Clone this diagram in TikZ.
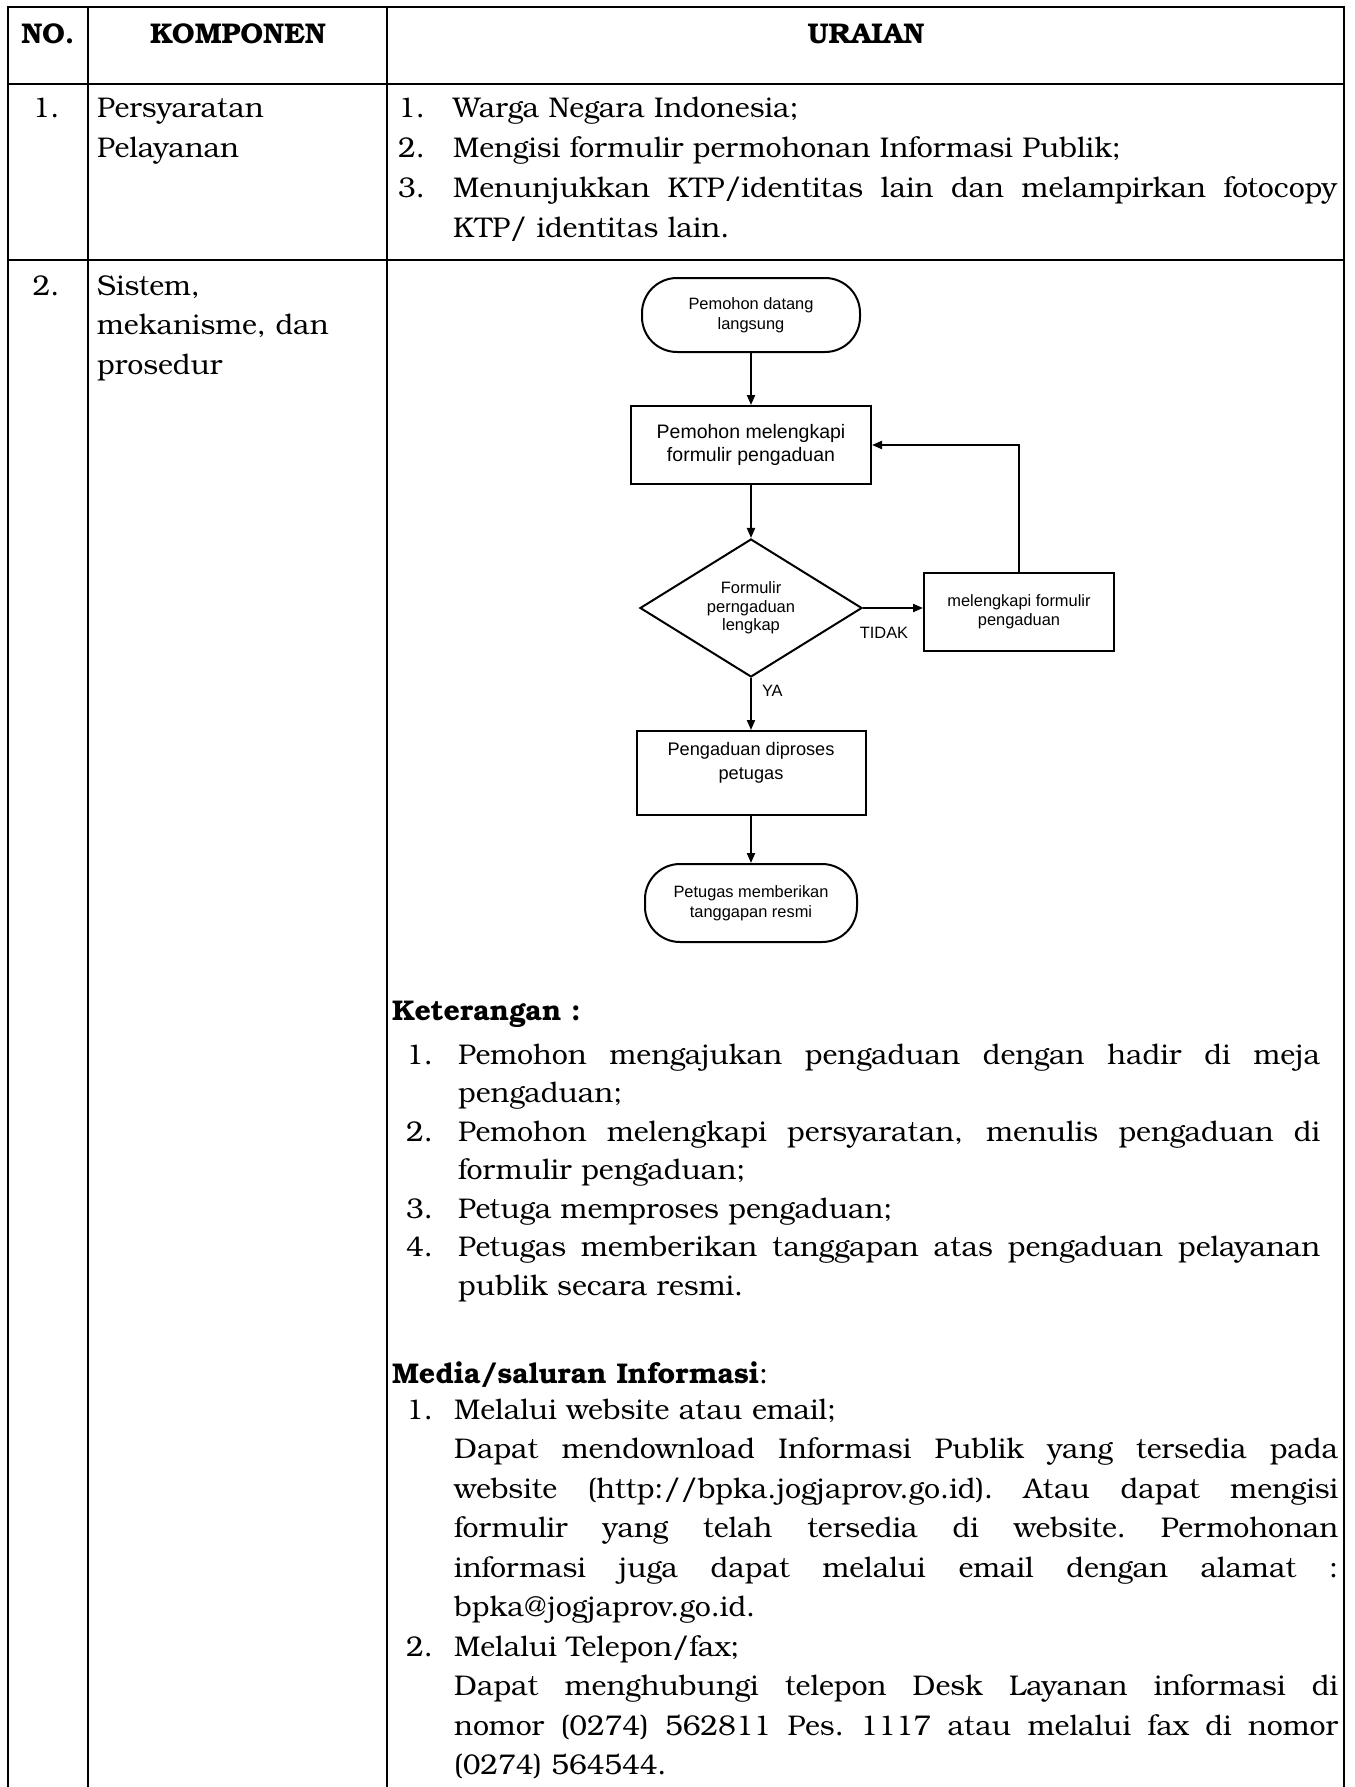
\documentclass[tikz,border=0pt]{standalone}
\usepackage{fontspec}
\setmainfont{TeX Gyre Bonum}
\newfontfamily\chartfont{Liberation Sans}
\usetikzlibrary{shapes.geometric, arrows.meta, positioning, calc}

\newcommand\bodyfont{\fontsize{28.5}{39.5}\selectfont\frenchspacing}
\newcommand\chartsize[2]{\chartfont\fontsize{#1}{#2}\selectfont}
\newcommand\jline[1]{\makebox[\linewidth][s]{\spaceskip=0pt\xspaceskip=0pt\relax#1}}

\begin{document}
\begin{tikzpicture}[
    x=1pt, y=-1pt,
    gridline/.style={line width=2.2pt},
    txt/.style={anchor=base west, inner sep=0pt, font=\bodyfont},
    parablock/.style={txt, text width=#1, align=left},
    colhead/.style={anchor=base, inner sep=0pt, font=\bodyfont\bfseries},
    term/.style={draw, line width=2pt, rounded corners=35pt, minimum width=218pt, minimum height=74pt, align=center, inner sep=0pt, font=\chartsize{16.4}{20}},
    box/.style={draw, line width=2pt, minimum width=240pt, minimum height=78pt, align=center, inner sep=0pt},
    decision/.style={draw, diamond, line width=2pt, minimum width=222pt, minimum height=138pt, aspect=1.6, align=center, inner sep=0pt, font=\chartsize{16.5}{18.5}},
    arrow/.style={-{Triangle[length=10pt,width=8pt]}, line width=2pt},
    flag/.style={inner sep=0pt, font=\chartsize{16.4}{20}}
]
    \useasboundingbox (0,0) rectangle (1354,1787);

    \draw[gridline] (8,1787) -- (8,7) -- (1344,7) -- (1344,1787);
    \draw[gridline] (8,84) -- (1344,84);
    \draw[gridline] (8,260) -- (1344,260);
    \foreach \x in {88,387} \draw[gridline] (\x,7) -- (\x,1787);

    \node[colhead] (hno) at (48,44) {NO.};
    \node[colhead] (hkomp) at (238,44) {KOMPONEN};
    \node[colhead] (hurai) at (866,44) {URAIAN};

    \node[txt, anchor=base] (no1) at (46,118) {1.};
    \node[parablock=280pt] (komp1) at (97,118) {Persyaratan\\Pelayanan};
    \foreach \n/\y in {1/118, 2/158, 3/198} \node[txt] (req\n) at (398,\y) {\n.};
    \node[parablock=884pt, font=\fontsize{28.5}{40}\selectfont] (reqs) at (453,118) {Warga Negara Indonesia;\\
        Mengisi formulir permohonan Informasi Publik;\\
        \jline{Menunjukkan KTP/identitas lain dan melampirkan fotocopy}\\
        KTP/ identitas lain.};

    \node[txt, anchor=base] (no2) at (46,295) {2.};
    \node[parablock=280pt] (komp2) at (97,295) {Sistem,\\mekanisme, dan\\prosedur};

    \node[term] (start) at (751,315) {Pemohon datang\\langsung};
    \node[box, font=\chartsize{19.5}{23}] (fill) at (751,445) {Pemohon melengkapi\\formulir pengaduan};
    \node[decision] (check) at (751,608) {Formulir\\perngaduan\\lengkap};
    \node[box, minimum width=190pt, font=\chartsize{16.4}{19}] (redo) at (1019,612) {melengkapi formulir\\pengaduan};
    \node[box, minimum width=229pt, minimum height=84pt, font=\chartsize{18.2}{24}] (process) at (751,773) {Pengaduan diproses\\petugas\\\mbox{}};
    \node[term, minimum width=212pt, minimum height=78pt] (finish) at (751,903) {Petugas memberikan\\tanggapan resmi};

    \draw[arrow] (start) -- (fill);
    \draw[arrow] (fill) -- (check);
    \draw[arrow] (check.east) -- node[flag, below=18pt, pos=0.35] (no) {TIDAK} (check.east -| redo.west);
    \draw[arrow] (redo.north) |- (fill.east);
    \draw[arrow] (check) -- node[flag, right=10pt, pos=0.25] (yes) {YA} (process);
    \draw[arrow] (process) -- (finish);

    \node[txt, font=\bodyfont\bfseries] (ket) at (392,1020) {Keterangan :};
    \foreach \n/\y in {1/1064, 2/1141, 3/1218, 4/1256.5} \node[txt] (ket\n) at (406,\y) {\n.};
    \node[parablock=862pt, font=\fontsize{28.5}{38.5}\selectfont] (ketlist) at (458,1064) {\jline{Pemohon mengajukan pengaduan dengan hadir di meja}\\
        pengaduan;\\
        \jline{Pemohon melengkapi persyaratan, menulis pengaduan di}\\
        formulir pengaduan;\\
        Petuga memproses pengaduan;\\
        \jline{Petugas memberikan tanggapan atas pengaduan pelayanan}\\
        publik secara resmi.};

    \node[txt] (media) at (392,1383) {\textbf{Media/saluran Informasi}:};
    \foreach \n/\y in {1/1419, 2/1656} \node[txt] (media\n) at (406,\y) {\n.};
    \node[parablock=884pt] (medialist) at (454,1419) {Melalui website atau email;\\
        \jline{Dapat mendownload Informasi Publik yang tersedia pada}\\
        \jline{website (http://bpka.jogjaprov.go.id). Atau dapat mengisi}\\
        \jline{formulir yang telah tersedia di website. Permohonan}\\
        \jline{informasi juga dapat melalui email dengan alamat :}\\
        bpka@jogjaprov.go.id.\\
        Melalui Telepon/fax;\\
        \jline{Dapat menghubungi telepon Desk Layanan informasi di}\\
        \jline{nomor (0274) 562811 Pes. 1117 atau melalui fax di nomor}\\
        (0274) 564544.};
\end{tikzpicture}
\end{document}
